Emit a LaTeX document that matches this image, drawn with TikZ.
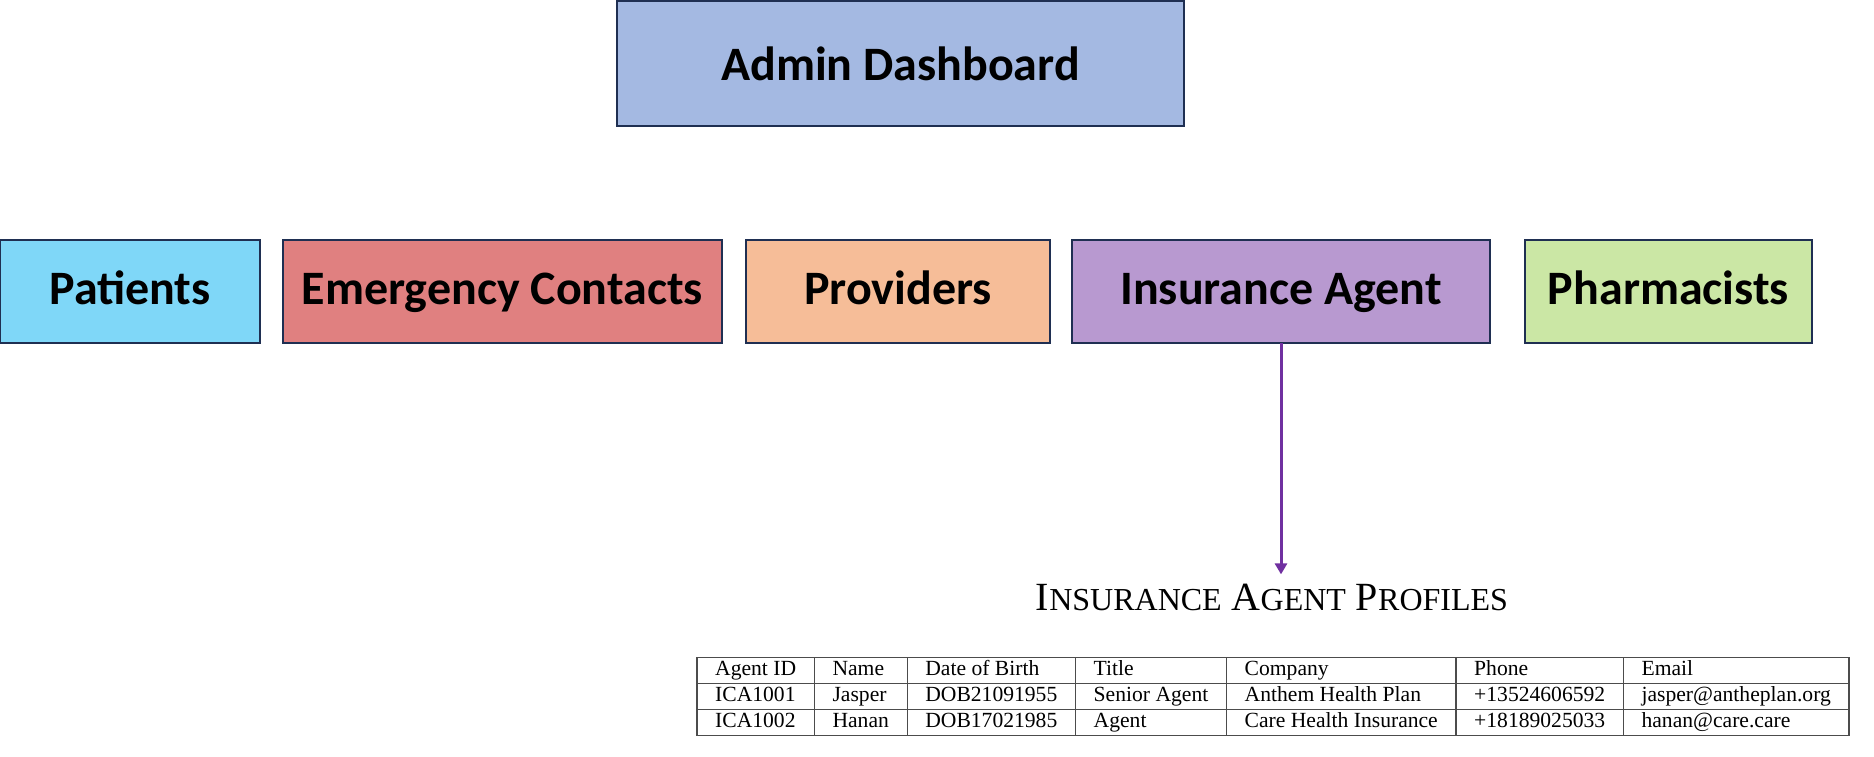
\documentclass[tikz,border=0pt]{standalone}
\usepackage{fontspec}
\setmainfont{Liberation Serif}
\newfontfamily\rolefont{Carlito}
\usepackage{colortbl}
\usetikzlibrary{arrows.meta,calc}
\definecolor{edgeblue}{HTML}{1F2F52}
\definecolor{adminblue}{HTML}{A4B9E2}
\definecolor{patblue}{HTML}{7FD7F8}
\definecolor{emred}{HTML}{E08080}
\definecolor{provorange}{HTML}{F6BD98}
\definecolor{agentlilac}{HTML}{B899D0}
\definecolor{pharmgreen}{HTML}{CBE7A5}
\definecolor{agentpurple}{HTML}{7030A0}
\tikzstyle{role}=[draw=edgeblue, line width=1pt, inner sep=0pt, outer sep=0pt,
  minimum height=51.5pt, text centered, text height=18pt, text depth=4.5pt,
  font=\rolefont\bfseries\fontsize{24pt}{28pt}\selectfont]
\tikzstyle{line} = [draw, line width=1.5pt, color=agentpurple,
  -{Triangle[width=6pt,length=5.5pt]}]
\tikzstyle{caption}=[anchor=base, inner xsep=0pt, inner ysep=4.4pt,
  font=\fontsize{20pt}{24pt}\selectfont]
\newcommand{\role}[4]{node (#1) [role, anchor=west, fill=#2,
  minimum width=#3] {#4}}
\newcommand{\fakesc}[2]{#1{\fontsize{16pt}{24pt}\selectfont #2}}

\begin{document}
\begin{tikzpicture}[x=0.5pt,y=0.5pt]
  \useasboundingbox (0,0) rectangle (1874,756);

  % Dashboard
  \path (900.5,692.5) node (admin) [role, fill=adminblue, text height=,
    text depth=, minimum width=283.5pt, minimum height=62.5pt]
    {Admin Dashboard};

  % Roles
  \path (0,464.5) \role{pat}{patblue}{130pt}{Patients};
  \path (pat.east)+(23,0) \role{emc}{emred}{219.5pt}{Emergency Contacts};
  \path (emc.east)+(24,0) \role{prov}{provorange}{152pt}{Providers};
  \path (prov.east)+(22,0) \role{ins}{agentlilac}{209pt}{Insurance Agent};
  \path (ins.east)+(35,0) \role{pharm}{pharmgreen}{143.5pt}{Pharmacists};

  % Profiles
  \path (1272,146) node (title) [caption]
    {\fakesc{I}{NSURANCE} \fakesc{A}{GENT} \fakesc{P}{ROFILES}};
  \path (1273,59.5) node (agents) [inner sep=0pt] {%
    \fontsize{10.8pt}{12.4pt}\selectfont
    \setlength{\tabcolsep}{8.8pt}%
    \setlength{\arrayrulewidth}{0.6pt}%
    \arrayrulecolor{black!70}%
    \begin{tabular}{|l|l|l|l|l|l|l|}
      \hline
      Agent ID & Name & Date of Birth & Title & Company & Phone & Email \\
      \hline
      ICA1001 & Jasper & DOB21091955 & Senior Agent & Anthem Health Plan
        & +13524606592 & jasper@antheplan.org \\
      \hline
      ICA1002 & Hanan & DOB17021985 & Agent & Care Health Insurance
        & +18189025033 & hanan@care.care \\
      \hline
    \end{tabular}};

  % Draw arrow
  \path [line] (ins.south) -- (ins.south |- title.north);

\end{tikzpicture}
\end{document}
